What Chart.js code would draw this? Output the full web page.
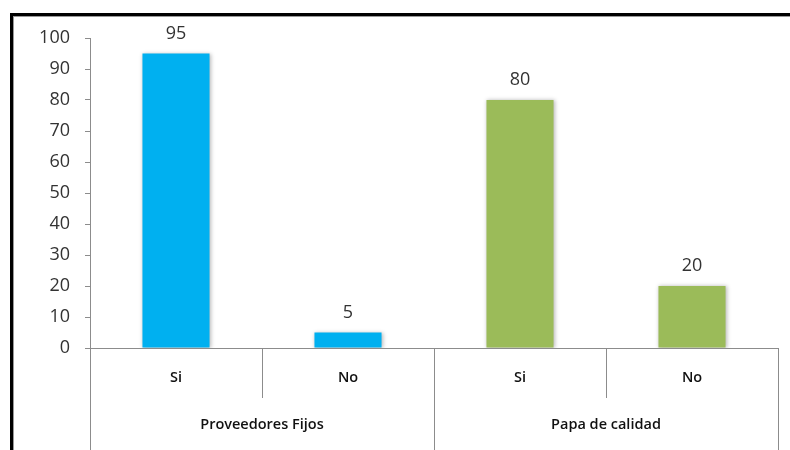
<!DOCTYPE html>
<html>
<head>
<meta charset="utf-8">
<script src="https://cdn.jsdelivr.net/npm/chart.js@4/dist/chart.umd.min.js"></script>
<style>
  html, body { margin: 0; padding: 0; background: #fff; }
  #frame {
    position: absolute; left: 10px; top: 13px; width: 780px; height: 437px;
    border-top: 3px solid #000; border-left: 3px solid #000;
    box-shadow: inset 1px 1px 0 #999;
  }
  #wrap { position: absolute; left: 0; top: 0; width: 790px; height: 450px; }
</style>
</head>
<body>
<div id="frame"></div>
<div id="wrap"><canvas id="c" width="790" height="450"></canvas></div>
<script>
// Answers per question
const answers = ['Si', 'No', 'Si', 'No'];
const groups = ['Proveedores Fijos', 'Papa de calidad'];
const values = [95, 5, 80, 20];
const barColors = ['#00B0F0', '#00B0F0', '#9BBB59', '#9BBB59'];
const yTicks = [0, 10, 20, 30, 40, 50, 60, 70, 80, 90, 100];

const AXIS_GRAY = '#8c8c8c';
const TEXT = '#333333';

// Soft shadow around the bars
const barShadow = {
  id: 'barShadow',
  beforeDatasetsDraw(chart) {
    const ctx = chart.ctx;
    ctx.save();
    ctx.shadowColor = 'rgba(0,0,0,0.28)';
    ctx.shadowBlur = 4;
    ctx.shadowOffsetX = 1;
    ctx.shadowOffsetY = 0;
  },
  afterDatasetsDraw(chart) { chart.ctx.restore(); }
};

// Value printed above each bar
const valueLabels = {
  id: 'valueLabels',
  afterDatasetsDraw(chart) {
    const ctx = chart.ctx;
    const meta = chart.getDatasetMeta(0);
    ctx.save();
    ctx.font = '18px "Open Sans", sans-serif';
    ctx.fillStyle = TEXT;
    ctx.textAlign = 'center';
    ctx.textBaseline = 'bottom';
    meta.data.forEach((bar, i) => {
      ctx.fillText(String(chart.data.datasets[0].data[i]), bar.x, bar.y - 11);
    });
    ctx.restore();
  }
};

// Category dividers below the axis (short between answers, long between groups)
const categoryDividers = {
  id: 'categoryDividers',
  afterDraw(chart) {
    const x = chart.scales.x;
    const ctx = chart.ctx;
    const n = answers.length;
    const step = (x.right - x.left) / n;
    const perGroup = n / groups.length;
    ctx.save();
    ctx.strokeStyle = AXIS_GRAY;
    ctx.lineWidth = 1;
    for (let i = 0; i <= n; i++) {
      const px = Math.round(x.left + i * step) + 0.5;
      const bottom = (i % perGroup === 0) ? chart.height : x.bottom;
      ctx.beginPath();
      ctx.moveTo(px, x.top);
      ctx.lineTo(px, bottom);
      ctx.stroke();
    }
    ctx.restore();
  }
};

const labelFont = { family: '"Open Sans", sans-serif', size: 14.5, weight: '600' };

new Chart(document.getElementById('c'), {
  type: 'bar',
  data: {
    labels: answers,
    datasets: [{
      data: values,
      backgroundColor: barColors,
      borderWidth: 0,
      categoryPercentage: 1,
      barPercentage: 0.39
    }]
  },
  options: {
    responsive: false,
    animation: false,
    layout: { padding: { left: 0, top: 38, right: 12, bottom: 0 } },
    plugins: { legend: { display: false }, tooltip: { enabled: false } },
    scales: {
      y: {
        min: 0, max: 100,
        afterFit(s) { s.width = 90; },
        afterBuildTicks(s) { s.ticks = yTicks.map(v => ({ value: v })); },
        grid: { drawOnChartArea: false, color: AXIS_GRAY, tickLength: 5 },
        border: { color: AXIS_GRAY },
        ticks: { color: TEXT, font: { family: '"Open Sans", sans-serif', size: 18 }, padding: 15 }
      },
      x: {
        weight: 0,
        afterFit(s) { s.height = 50; },
        grid: { display: false },
        border: { color: AXIS_GRAY },
        ticks: { color: '#111', font: labelFont, padding: 13 }
      },
      x2: {
        type: 'category',
        position: 'bottom',
        weight: 1,
        labels: groups,
        offset: true,
        afterFit(s) { s.height = 52; },
        grid: { display: false },
        border: { display: false },
        ticks: { color: '#111', font: labelFont, padding: 10 }
      }
    }
  },
  plugins: [barShadow, valueLabels, categoryDividers]
});
</script>
</body>
</html>
